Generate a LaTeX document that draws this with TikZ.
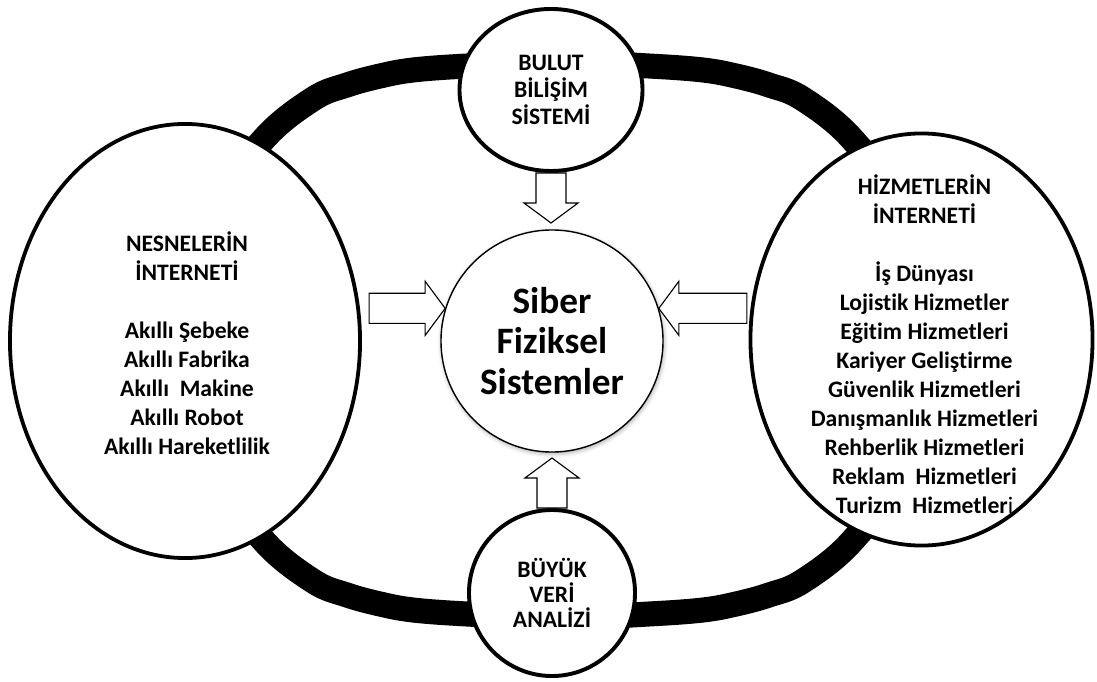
\documentclass[tikz,border=0pt]{standalone}
\usepackage{fontspec}
\setmainfont{Carlito}[Ligatures=NoCommon]
\usetikzlibrary{shapes.geometric,shapes.arrows,shadows.blur}

\begin{document}
\begin{tikzpicture}[x=0.025cm, y=-0.025cm,
	every node/.style={align=center},
	realm/.style={ellipse, draw=black, line width=2.7pt, fill=white},
	realmtext/.style={font=\fontsize{16.8}{20.6}\selectfont\bfseries, inner sep=0pt},
	satellite/.style={ellipse, draw=black, line width=2.8pt, fill=white, inner sep=0pt},
	core/.style={circle, draw=black, line width=1pt, fill=white, minimum size=5.55cm, blur shadow={shadow xshift=0.6pt, shadow yshift=-1.2pt, shadow blur radius=3pt, shadow opacity=35}},
	coretext/.style={font=\fontsize{26.5}{29}\selectfont\bfseries, inner sep=0pt},
	blockarrow/.style={single arrow, draw=black, line width=0.8pt, fill=white, inner xsep=0pt, inner ysep=0.3cm, outer sep=0pt, minimum width=1.35cm, single arrow tip angle=107}]
			\useasboundingbox (0,0) rectangle (1097,682);
			
			\draw[line width=17.8pt] plot[smooth cycle, tension=0.6] coordinates {(181,340) (211,215) (263,140) (313,99) (347,85) (380,76) (413,70) (467,66) (558,62) (649,66) (703,70) (736,76) (769,85) (803,99) (853,140) (905,215) (935,340) (905,465) (853,540) (803,581) (769,595) (736,604) (703,610) (649,614) (558,618) (467,614) (413,610) (380,604) (347,595) (313,581) (263,540) (211,465)};
			
			\node[realm, minimum width=8.75cm, minimum height=10.85cm] (nesne) at (185,341){};
			\node[realm, minimum width=8.55cm, minimum height=10.3cm] (hizmet) at (921.5,339.5){};
			\node[satellite, minimum width=4.575cm, minimum height=4.05cm, font=\fontsize{16.8}{18.9}\selectfont\bfseries] (bulut) at (551,90){BULUT\\BİLİŞİM\\SİSTEMİ};
			\node[satellite, minimum size=4.15cm, font=\fontsize{16.8}{17.8}\selectfont\bfseries] (veri) at (552,593){BÜYÜK\\VERİ\\ANALİZİ};
			\node[core] (spc) at (552,341){};
			
			\node[realmtext] (nesneText) at ([shift={(2,2)}]nesne.center){NESNELERİN\\İNTERNETİ\\[20.6pt]Akıllı Şebeke\\Akıllı Fabrika\\Akıllı\ \ Makine\\Akıllı Robot\\Akıllı Hareketlilik};
			\node[realmtext] (hizmetText) at ([shift={(3,5)}]hizmet.center){HİZMETLERİN\\İNTERNETİ\\[20.6pt]İş Dünyası\\Lojistik Hizmetler\\Eğitim Hizmetleri\\Kariyer Geliştirme\\Güvenlik Hizmetleri\\Danışmanlık Hizmetleri\\Rehberlik Hizmetleri\\Reklam\ \ Hizmetleri\\Turizm\ \ Hizmetler{\mdseries i}};
			\node[coretext] (spcText) at (spc.center){Siber\\Fiziksel\\Sistemler};
			
			\node[blockarrow, minimum height=1.25cm, rotate=-90, anchor=tail] (arrT) at (bulut.south){};
			\node[blockarrow, minimum height=1.25cm, rotate=90, anchor=tail] (arrB) at (veri.north){};
			\node[blockarrow, minimum height=1.9cm, anchor=tip] (arrL) at (spc.163){};
			\node[blockarrow, minimum height=2.2cm, rotate=180, anchor=tip] (arrR) at (spc.17){};
			\end{tikzpicture}
\end{document}
